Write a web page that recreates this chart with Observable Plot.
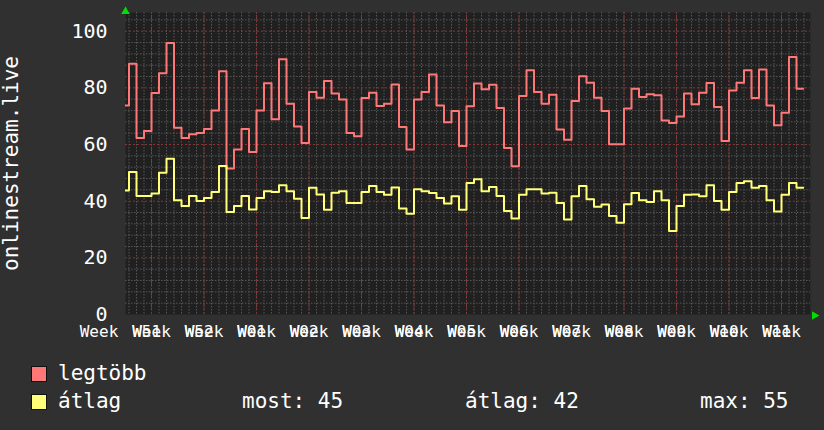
<!DOCTYPE html>
<html><head><meta charset="utf-8">
<script src="https://cdn.jsdelivr.net/npm/d3@7"></script>
<script src="https://cdn.jsdelivr.net/npm/@observablehq/plot@0.6"></script>
<style>
html,body{margin:0;padding:0;background:#303030;}
#wrap{position:relative;width:824px;height:430px;background:#303030;overflow:hidden;font-family:"DejaVu Sans Mono",monospace;color:#fff;}
#wrap svg{position:absolute;left:0;top:0;}
.lg{position:absolute;font-size:21px;line-height:1;white-space:pre;color:#fff;}
.sw{position:absolute;width:14px;height:14px;border:1px solid #111;}
</style></head><body><div id="wrap"></div>
<script>
// ---- data (daily values, first day = startDay) ----
const startDay = "2023-12-14T00:00Z";
const dataEnd = "2024-03-13T21:20Z";
const legtobb = [73.8,88.5,62.3,64.8,78.2,85.2,95.8,65.9,62.3,63.6,64.1,65.5,72,85.9,51.5,58.2,65.5,57.4,72,81.6,68.9,90.1,74.4,66.4,
60.5,78.5,76.5,82.4,78,75.9,64.1,62.9,76.4,78.3,73.6,74.4,81.2,66.2,58.2,75.9,78.5,84.7,73.8,67.9,71.8,59.5,73.5,
81.5,79.5,81.1,72.9,58.8,52.3,77.1,86.2,78.5,74.4,77.6,65.3,61.7,75.4,84.1,81.8,76.5,71.8,60.1,60.1,72.7,79.7,
76.8,77.7,77.4,68.5,67.6,69.9,78,74.2,78.3,81.7,73.2,61.2,79.1,81.8,86.2,76.4,86.5,73.8,66.8,71.2,90.9,79.7];
const atlag = [43.8,50.3,41.8,41.8,42.7,50,55,40.3,38.3,41.8,40.1,41.1,43.2,52.4,36.2,38.3,41.8,37.1,41.1,43.5,43.2,45.6,43.5,40.9,
34.1,44.7,42.4,37,43,43.5,39.4,39.4,43.2,45.4,43.2,42.3,44.8,37.4,35.6,44.2,43.5,42.9,41.1,39.2,41.7,37,46.4,
47.7,43.5,45,41.8,36.5,33.9,42.3,44.2,44.2,42.7,43,39.4,33.5,41.7,45.4,40.7,38,38.8,34.8,32.4,38.9,42.9,
40.3,39.7,43.5,40.3,29.5,38.3,42.3,42.4,41.7,45.6,40.1,37,43.2,46.4,47,44.7,45.4,40.3,36.4,42.3,46.4,44.7];
const weekStarts = ["2023-12-11","2023-12-18","2023-12-25","2024-01-01","2024-01-08","2024-01-15","2024-01-22","2024-01-29","2024-02-05","2024-02-12","2024-02-19","2024-02-26","2024-03-04","2024-03-11"];
const weekLabels = [null,"W51","W52","W01","W02","W03","W04","W05","W06","W07","W08","W09","W10","W11"];
const yTicks = [0,20,40,60,80,100];
const yLabel = "onlinestream.live";
const seriesNames = ["legtöbb","átlag"];
const seriesColors = ["#ff7878","#ffff78"];
const stats = [["most",45],["átlag",42],["max",55]];
const xDomain = ["2023-12-14T12:48Z","2024-03-14T20:48Z"];
const yMax = 106.6;

// ---- build ----
const d0 = new Date(startDay);
function build(vals){
  const rows = vals.map((v,i)=>({date:d3.utcDay.offset(d0,i), v}));
  rows.push({date:new Date(dataEnd), v:vals[vals.length-1]});
  return rows;
}
const redRows = build(legtobb), yelRows = build(atlag);
const xd = xDomain.map(d=>new Date(d));
const weeks = weekStarts.map(d=>new Date(d+"T00:00Z"));
const labelMap = new Map(weeks.map((d,i)=>[+d, weekLabels[i]]));
const labeledWeeks = weeks.filter((d,i)=>weekLabels[i]);
const days = d3.utcDays(xd[0], xd[1]);
const minorY = d3.range(0, yMax, 4).filter(v=>v%20!==0);

const svg = Plot.plot({
  width: 824, height: 345,
  marginLeft: 125, marginRight: 14, marginTop: 12, marginBottom: 31,
  x: {type:"utc", domain: xd},
  y: {domain:[0,yMax]},
  style: {background:"transparent", color:"#fff", fontFamily:"DejaVu Sans Mono, monospace", fontSize:"20px"},
  marks: [
    Plot.frame({fill:"#202020", stroke:null}),
    Plot.ruleX(days, {stroke:"#565656", strokeDasharray:"1.5,1.5", strokeWidth:1}),
    Plot.ruleY(minorY, {stroke:"#565656", strokeDasharray:"1.5,1.5", strokeWidth:1}),
    Plot.ruleX(labeledWeeks, {stroke:"#8a3535", strokeDasharray:"2,2", strokeWidth:1}),
    Plot.ruleY(yTicks.filter(v=>v>0), {stroke:"#8a3535", strokeDasharray:"2,2", strokeWidth:1}),
    Plot.line(redRows, {x:"date", y:"v", curve:"step-after", stroke:seriesColors[0], strokeWidth:2, clip:true}),
    Plot.line(yelRows, {x:"date", y:"v", curve:"step-after", stroke:seriesColors[1], strokeWidth:2, clip:true}),
    Plot.axisY(yTicks, {tickSize:0, tickPadding:18, fontSize:20, label:yLabel, labelAnchor:"center", labelOffset:122, labelArrow:false}),
    Plot.axisX(weeks, {tickSize:0, tickPadding:11, fontSize:16, tickFormat:()=> "Week", label:null}),
    Plot.axisX(labeledWeeks, {tickSize:0, tickPadding:11, fontSize:16, tickFormat:d=>labelMap.get(+d), textAnchor:"start", dx:-19.3, label:null}),
    Plot.dot([{x:xd[1], y:0}], {x:"x", y:"y", symbol:"triangle", rotate:90, fill:"#00dd00", stroke:null, r:3.2, dx:4, dy:1}),
    Plot.dot([{x:xd[0], y:yMax}], {x:"x", y:"y", symbol:"triangle", fill:"#00dd00", stroke:null, r:3.2, dy:-1})
  ]
});
svg.querySelectorAll("text").forEach(t=>{
  if (t.textContent === yLabel) { t.setAttribute("font-size","21"); t.style.fontSize = "21px"; }
});
const wrap = document.getElementById("wrap");
wrap.appendChild(svg);

// legend
function add(cls, left, top, txt, bg){
  const e = document.createElement("div"); e.className = cls;
  e.style.left = left+"px"; e.style.top = top+"px";
  if (txt!=null) e.textContent = txt;
  if (bg) e.style.background = bg;
  wrap.appendChild(e);
}
add("sw", 31, 366, null, seriesColors[0]);
add("lg", 58, 363, seriesNames[0]);
add("sw", 31, 394, null, seriesColors[1]);
add("lg", 58, 391, seriesNames[1]);
const statX = [242, 465, 700];
stats.forEach((s,i)=>add("lg", statX[i], 391, s[0]+": "+s[1]));
</script></body></html>
